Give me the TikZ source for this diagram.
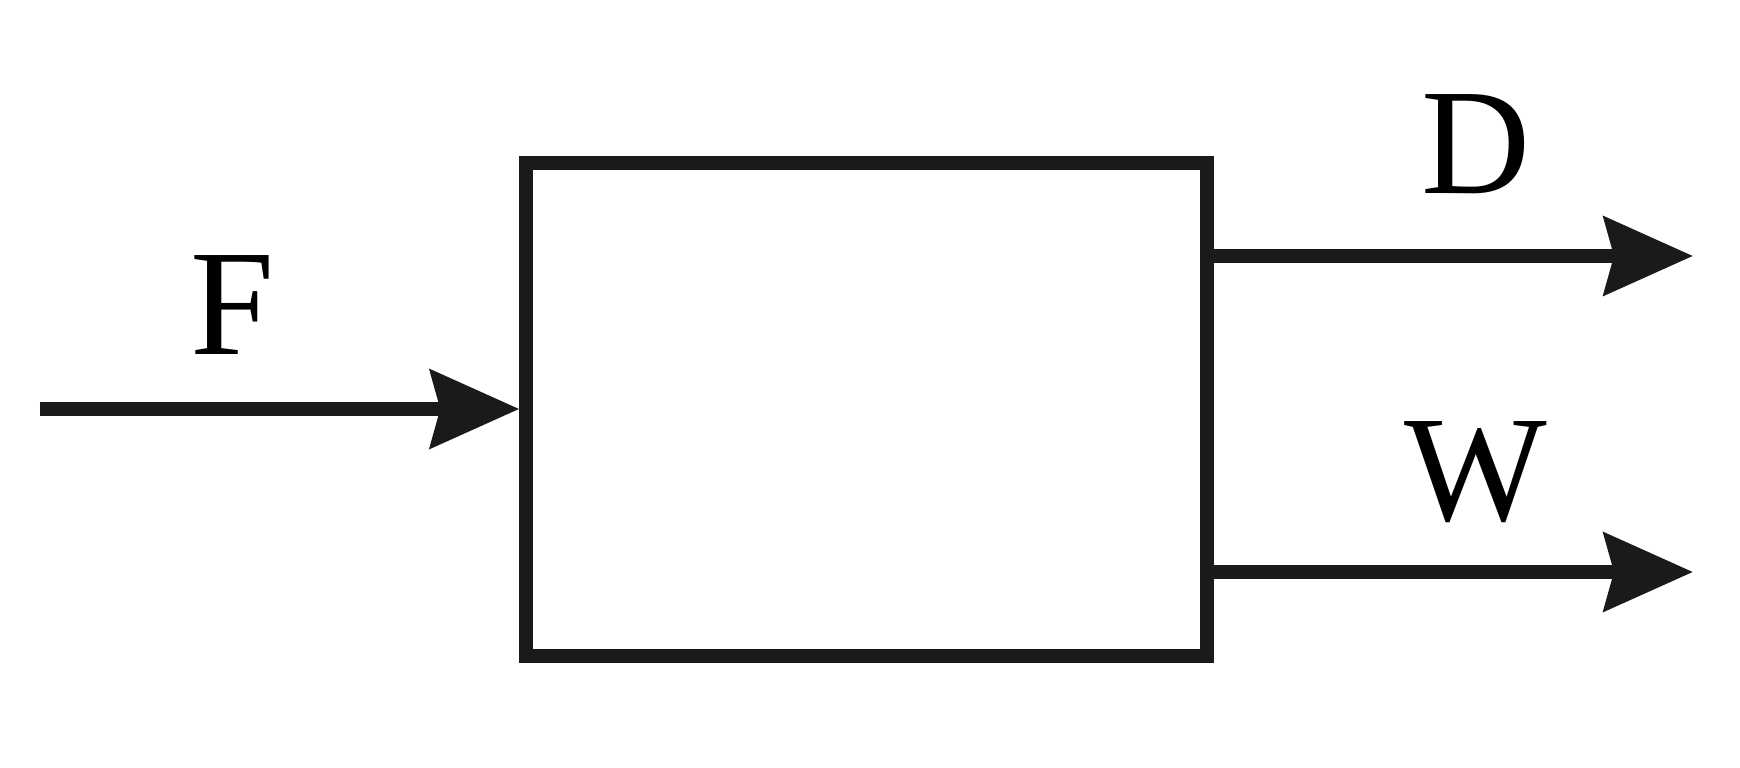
\documentclass[tikz,border=0pt]{standalone}
\usepackage{fontspec}
\setmainfont{Liberation Serif}
\usetikzlibrary{arrows.meta}
\definecolor{ink}{HTML}{1A1A1A}
\begin{document}
\begin{tikzpicture}[
  unitbox/.style = {
    shape = rectangle,
    draw = ink,
    line width = 3.8pt,
    minimum width = 6.81cm,
    minimum height = 4.93cm,
    inner sep = 0pt,
  },
  stream/.style = {
    draw = ink,
    line width = 3.8pt,
    -{Stealth[length = 0.89cm, width = 0.78cm, inset = 0.1cm]},
  },
  tag/.style = {
    font = \fontsize{43}{43}\selectfont,
    inner sep = 0pt,
  }
]
  \useasboundingbox (0, 0) rectangle (17.4, 7.68);

  \node[unitbox] (column) at (8.665, 3.585) {};

  \coordinate (feedin) at (0.40, 3.59);
  \coordinate (distout) at (16.93, 5.12);
  \coordinate (bottout) at (16.93, 1.96);

  \node[tag] (F) at (2.33, 4.63) {F};
  \node[tag] (D) at (14.76, 6.24) {D};
  \node[tag] (W) at (14.76, 2.96) {W};

  \draw[stream] (feedin) -- (column.west |- feedin);
  \draw[stream] (column.east |- distout) -- (distout);
  \draw[stream] (column.east |- bottout) -- (bottout);
\end{tikzpicture}
\end{document}
